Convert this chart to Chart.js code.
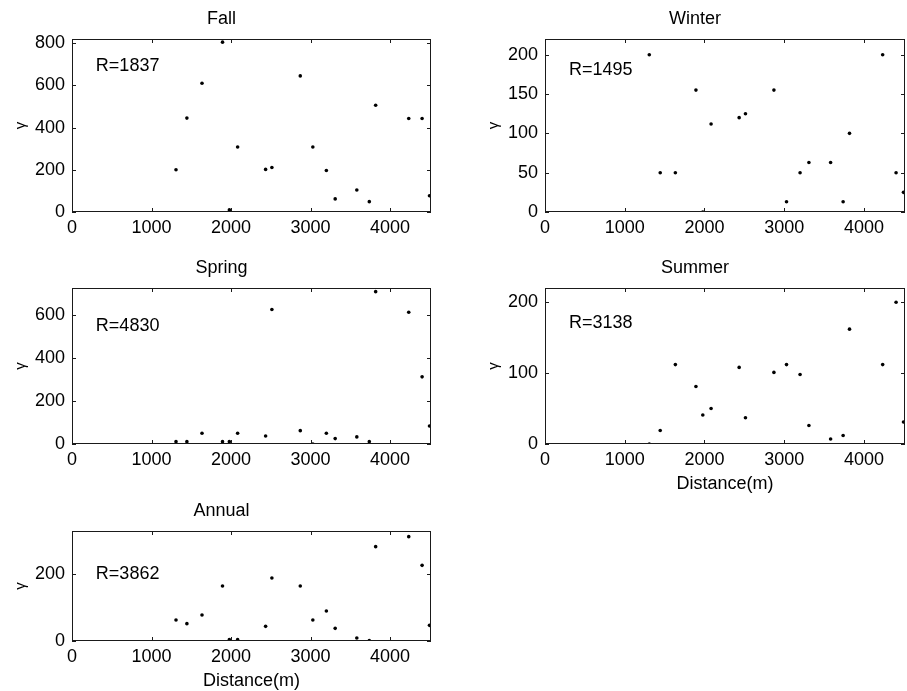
<!DOCTYPE html>
<html>
<head>
<meta charset="utf-8">
<script src="https://cdn.jsdelivr.net/npm/chart.js@4"></script>
<style>
  html, body { margin: 0; padding: 0; background: #fff; overflow: hidden; }
  body { width: 907px; height: 691px; position: relative; }
  canvas { position: absolute; }
</style>
</head>
<body>
<script>
// lag distances shared by every panel (m)
const distance = [1308, 1445, 1635, 1893, 1979, 2083, 2435, 2514, 2871, 3029,
  3199, 3310, 3582, 3739, 3819, 4235, 4403, 4496];

const fallGamma   = [200, 445, 610, 805, 10, 308, 202, 211, 645, 308, 197, 62, 104, 49, 506, 443, 443, 77];
const winterGamma = [200, 50, 50, 155, 0, 112, 120, 125, 155, 13, 50, 63, 63, 13, 100, 200, 50, 25];
const springGamma = [11, 11, 50, 11, 11, 50, 37, 625, 62, 0, 50, 25, 33, 11, 708, 612, 312, 84];
const summerGamma = [0, 19, 112, 81, 41, 50, 108, 37, 101, 112, 98, 26, 7, 12, 162, 112, 200, 31];
const annualGamma = [63, 52, 78, 165, 4, 4, 44, 189, 165, 63, 90, 38, 9, 1, 283, 313, 227, 47];

const titles = ["Fall", "Winter", "Spring", "Summer", "Annual"];
const rValues = [1837, 1495, 4830, 3138, 3862];

const xTicks = [0, 1000, 2000, 3000, 4000];
const fallTicks = [0, 200, 400, 600, 800];
const winterTicks = [0, 50, 100, 150, 200];
const springTicks = [0, 200, 400, 600];
const summerTicks = [0, 100, 200];
const annualTicks = [0, 200];

const xMax = 4515;
const yMaxes = [820, 220, 725, 220, 330];
// where the "R=" note sits, in data units
const rX = 300;
const rY = [690, 180, 550, 170, 200];

const FONT = "'Liberation Sans', Arial, sans-serif";

// canvas boxes: left, top, width, height, x-axis height, show x title
const boxes = [
  [12, 8, 421, 234, 30, false],
  [485, 8, 422, 234, 30, false],
  [12, 257, 421, 217, 30, false],
  [485, 257, 422, 238, 51, true],
  [12, 500, 421, 192, 51, true]
];

const series = [fallGamma, winterGamma, springGamma, summerGamma, annualGamma];
const yTickSets = [fallTicks, winterTicks, springTicks, summerTicks, annualTicks];

// matlab-like box with inward ticks plus the R label
const framePlugin = {
  id: "frame",
  afterDatasetsDraw(chart, args, opts) {
    const { ctx, chartArea: a, scales } = chart;
    const x = scales.x, y = scales.y;
    ctx.save();
    ctx.strokeStyle = "#1a1a1a";
    ctx.lineWidth = 1;
    ctx.strokeRect(a.left + 0.5, a.top + 0.5, a.right - a.left - 1, a.bottom - a.top - 1);
    ctx.beginPath();
    x.ticks.forEach(function (t) {
      const px = Math.round(x.getPixelForValue(t.value)) + 0.5;
      ctx.moveTo(px, a.bottom); ctx.lineTo(px, a.bottom - 4);
      ctx.moveTo(px, a.top); ctx.lineTo(px, a.top + 4);
    });
    y.ticks.forEach(function (t) {
      const py = Math.round(y.getPixelForValue(t.value)) + 0.5;
      ctx.moveTo(a.left, py); ctx.lineTo(a.left + 4, py);
      ctx.moveTo(a.right, py); ctx.lineTo(a.right - 4, py);
    });
    ctx.stroke();
    ctx.fillStyle = "#000";
    ctx.font = "18px " + FONT;
    ctx.textBaseline = "middle";
    ctx.textAlign = "left";
    ctx.fillText("R=" + opts.r, x.getPixelForValue(rX), y.getPixelForValue(opts.ry));
    ctx.restore();
  }
};

titles.forEach(function (title, i) {
  const b = boxes[i];
  const cv = document.createElement("canvas");
  cv.width = b[2]; cv.height = b[3];
  cv.style.left = b[0] + "px"; cv.style.top = b[1] + "px";
  cv.style.width = b[2] + "px"; cv.style.height = b[3] + "px";
  document.body.appendChild(cv);

  const ticksY = yTickSets[i];
  new Chart(cv, {
    type: "scatter",
    data: {
      datasets: [{
        data: distance.map(function (d, k) { return { x: d, y: series[i][k] }; }),
        backgroundColor: "#000",
        borderColor: "#000",
        borderWidth: 0,
        pointRadius: 1.8,
        pointHoverRadius: 1.8
      }]
    },
    options: {
      responsive: false,
      animation: false,
      layout: { padding: { left: 0, right: 2, top: 0, bottom: 0 } },
      plugins: {
        legend: { display: false },
        tooltip: { enabled: false },
        title: {
          display: true,
          text: title,
          color: "#000",
          font: { family: FONT, size: 18, weight: "normal" },
          padding: { top: 0, bottom: 9.4 }
        },
        frame: { r: rValues[i], ry: rY[i] }
      },
      scales: {
        x: {
          type: "linear",
          min: 0,
          max: xMax,
          grid: { display: false, drawTicks: false },
          border: { display: false },
          ticks: {
            color: "#000", padding: 5, maxRotation: 0, font: { family: FONT, size: 18 },
            callback: function (v) { return String(v); }
          },
          afterBuildTicks: function (s) { s.ticks = xTicks.map(function (v) { return { value: v }; }); },
          afterFit: function (s) { s.height = b[4]; },
          title: {
            display: b[5],
            text: "Distance(m)",
            color: "#000",
            font: { family: FONT, size: 18 },
            padding: { top: 0, bottom: 0 }
          }
        },
        y: {
          type: "linear",
          min: 0,
          max: yMaxes[i],
          grid: { display: false, drawTicks: false },
          border: { display: false },
          ticks: {
            color: "#000", padding: 7, font: { family: FONT, size: 18 },
            callback: function (v) { return String(v); }
          },
          afterBuildTicks: function (s) { s.ticks = ticksY.map(function (v) { return { value: v }; }); },
          afterFit: function (s) { s.width = 60; },
          title: {
            display: true,
            text: "γ",
            color: "#000",
            font: { family: FONT, size: 15 },
            padding: { top: 0, bottom: 0 }
          }
        }
      }
    },
    plugins: [framePlugin]
  });
});
</script>
</body>
</html>
